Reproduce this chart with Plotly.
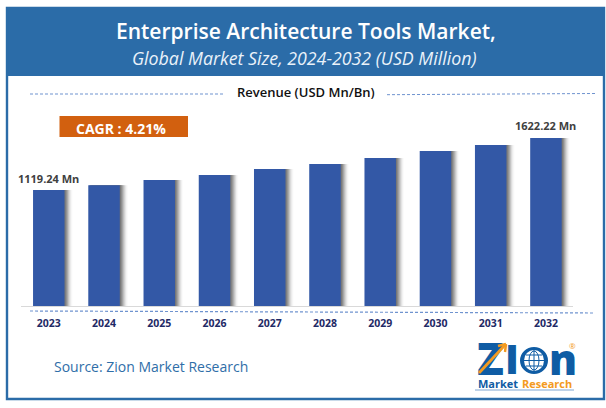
import plotly.graph_objects as go

years = [2023, 2024, 2025, 2026, 2027, 2028, 2029, 2030, 2031, 2032]
revenue = [1119.24, 1166, 1217, 1265, 1323, 1371, 1429, 1497, 1555, 1622.22]
bar_labels = ["1119.24 Mn", "", "", "", "", "", "", "", "", "1622.22 Mn"]
title_text = "Enterprise Architecture Tools Market,"
subtitle_text = "Global Market Size, 2024-2032 (USD Million)"
axis_title = "Revenue (USD Mn/Bn)"
cagr_text = "CAGR : 4.21%"
source_text = "Source: Zion Market Research"

W, H = 606, 408
BLUE = "#2b6ca8"
BAR = "#3358a6"
FONT = "Open Sans"


def px(x):
    return x / W


def py(y):
    return 1 - y / H


fig = go.Figure()
unit = 1 / 55.25
bw = 31.5 * unit
shadow = ["#fbfbfb", "#f0f0f0", "#dddddd", "#c4c4c4", "#a8a8a8", "#8e8e8e", "#777777"]
for i, c in enumerate(shadow):
    d = (len(shadow) - i) * 1.15 * unit
    fig.add_trace(go.Bar(x=years, y=revenue, width=bw, offset=-bw / 2 + d,
                         marker=dict(color=c, line_width=0), hoverinfo="skip", showlegend=False))
fig.add_trace(go.Bar(x=years, y=revenue, width=bw, offset=-bw / 2,
                     marker=dict(color=BAR, line_width=0), showlegend=False))


def rect(x0, y0, x1, y1, fill=None, line=None, lw=0, layer="below"):
    return dict(type="rect", xref="paper", yref="paper", x0=px(x0), x1=px(x1), y0=py(y0), y1=py(y1),
                fillcolor=fill or "rgba(0,0,0,0)", line=dict(color=line or "rgba(0,0,0,0)", width=lw), layer=layer)


def seg(x0, y0, x1, y1, color, width=1, dash="solid", layer="above"):
    return dict(type="line", xref="paper", yref="paper", x0=px(x0), x1=px(x1), y0=py(y0), y1=py(y1),
                line=dict(color=color, width=width, dash=dash), layer=layer)


def oval(x0, y0, x1, y1, fill=None, line=None, lw=0):
    return dict(type="circle", xref="paper", yref="paper", x0=px(x0), x1=px(x1), y0=py(y0), y1=py(y1),
                fillcolor=fill or "rgba(0,0,0,0)", line=dict(color=line or "rgba(0,0,0,0)", width=lw), layer="above")


def letter(cx, cy, text, size, color):
    s = rect(cx - 15, cy - 20, cx + 15, cy + 20, layer="above")
    s["label"] = dict(text=text, textposition="middle center",
                      font=dict(family=FONT, size=size, color=color, weight=800))
    return s


def label(x, y, text, size, color, weight=400, style="normal", anchor="center", font=FONT):
    return dict(xref="paper", yref="paper", x=px(x), y=py(y), text=text, showarrow=False,
                xanchor=anchor, yanchor="middle",
                font=dict(family=font, size=size, color=color, weight=weight, style=style))


LOGO = "#0f5ca4"
ORANGE = "#f39a21"
DASH = "3px,2px"
shapes = [
    rect(7, 8, 604, 76, fill=BLUE),
    rect(7, 8, 604, 399, line=BLUE, lw=2.4),
    rect(59.5, 116, 188, 137, fill="#d2600f"),
    seg(30, 94, 225, 94, "#6f93cf", 1, DASH),
    seg(387, 94.7, 595, 93.5, "#6f93cf", 1, DASH),
    seg(30, 311, 595, 313, "#6f93cf", 1.2, DASH),
    # logo letters, globe, arrow and swoosh
    letter(490.5, 361, "Z", 44, LOGO),
    letter(512, 361, "I", 40, LOGO),
    letter(563, 361, "n", 42, LOGO),
    seg(479, 373, 505, 345, ORANGE, 2.8),
    seg(506, 344, 498, 346, ORANGE, 2.4),
    seg(506, 344, 505, 352, ORANGE, 2.4),
    oval(520, 347, 548, 374, fill=LOGO),
    oval(524, 350, 544, 371, fill="#ffffff"),
    oval(529, 351, 539, 370, line=LOGO, lw=1),
    seg(524, 360.5, 544, 360.5, LOGO, 1),
    seg(526, 355, 542, 355, LOGO, 1),
    seg(526, 366, 542, 366, LOGO, 1),
    seg(534, 350, 534, 371, LOGO, 1),
    seg(475, 390, 574, 390, "#7fa6d2", 1),
]

annotations = [
    label(306, 31, title_text, 21, "#ffffff", 600),
    label(304, 58, subtitle_text, 17.8, "#eaf2fa", 400, "italic"),
    label(306, 92, axis_title, 13, "#111111", 600),
    label(121, 128, cagr_text, 14, "#ffffff", 700),
    label(151, 366, source_text, 14, "#2f6ea8", 400),
    label(572, 345, "®", 8, ORANGE, 400),
    label(497.5, 383, "Market", 11, LOGO, 700),
    label(547, 383, "Research", 11, ORANGE, 700),
]
for yr, val, txt in zip(years, revenue, bar_labels):
    if txt:
        annotations.append(dict(xref="x", yref="y", x=yr, y=val, text=txt, showarrow=False,
                                xanchor="center", yanchor="middle", yshift=12,
                                font=dict(family=FONT, size=11, color="#404040", weight=700)))

fig.update_layout(
    width=W, height=H, margin=dict(l=0, r=0, t=0, b=0),
    paper_bgcolor="#ffffff", plot_bgcolor="rgba(0,0,0,0)",
    barmode="overlay", shapes=shapes, annotations=annotations,
    xaxis=dict(domain=[px(21), px(573)], range=[2022.497, 2032.49], tickvals=years,
               ticks="outside", ticklen=7, tickcolor="rgba(0,0,0,0)", showgrid=False, zeroline=False,
               showline=True, linecolor="#d9d9d9", linewidth=1,
               tickfont=dict(family=FONT, size=10.5, color="#1f2a66", weight=700)),
    yaxis=dict(domain=[py(306), py(100)], range=[0, 1989], visible=False, showgrid=False, zeroline=False),
)

fig.write_html("out.html", config=dict(displayModeBar=False), post_script="document.body.style.margin='0';")
